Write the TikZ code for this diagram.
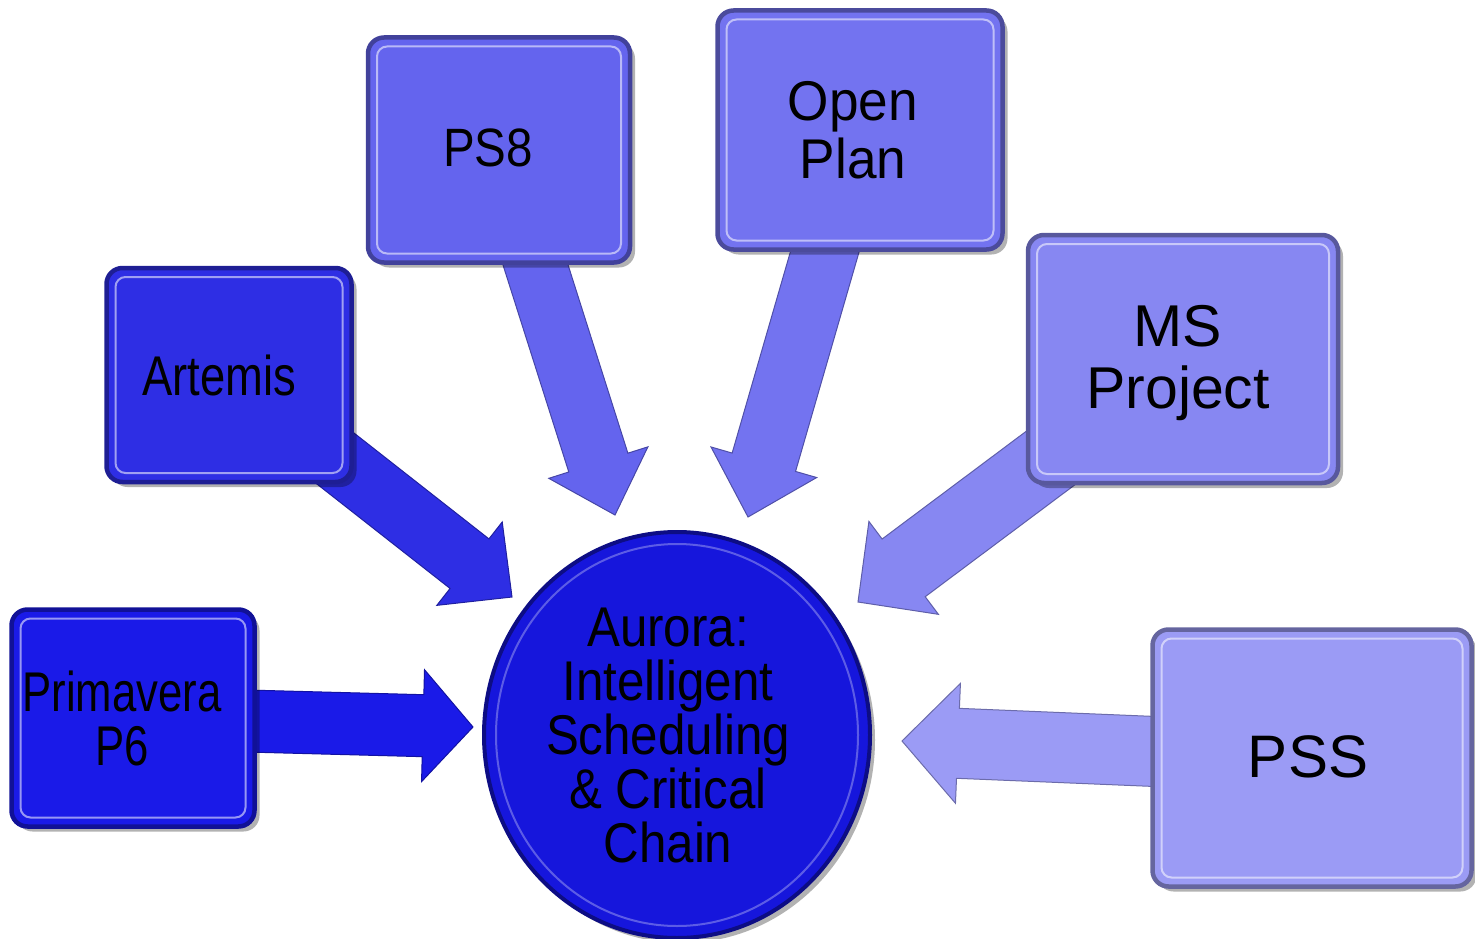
\documentclass[tikz,border=0pt]{standalone}
\usepackage{fontspec}
\setmainfont{Liberation Sans}
\usetikzlibrary{calc,shapes.geometric,shadows}
\definecolor{cP}{RGB}{26,26,232}
\definecolor{cA}{RGB}{46,46,228}
\definecolor{cS}{RGB}{100,100,238}
\definecolor{cO}{RGB}{115,115,240}
\definecolor{cM}{RGB}{135,135,242}
\definecolor{cT}{RGB}{155,155,245}
\definecolor{cC}{RGB}{22,22,220}
\pgfdeclarelayer{bg}
\pgfsetlayers{bg,main}
\newcommand{\blockarrow}[6]{%
  \coordinate (hb) at ($(#2)!#5!(#1)$);
  \path[fill=#6, draw=#6!70!black, line width=1pt, line join=miter]
    ($(#1)!#3!90:(#2)$) -- ($(hb)!#3!90:(#2)$) -- ($(hb)!#4!90:(#2)$) -- (#2)
    -- ($(hb)!#4!-90:(#2)$) -- ($(hb)!#3!-90:(#2)$) -- ($(#1)!#3!-90:(#2)$) -- cycle;
}
\tikzset{
  box/.style={rectangle, rounded corners=16pt, fill=#1, draw=#1!65!black, line width=4.5pt, inner sep=0pt,
    drop shadow={shadow xshift=5pt, shadow yshift=-5pt, opacity=0.3, fill=black},
    path picture={\draw[white, opacity=0.55, line width=2pt, rounded corners=10pt]
      ($(path picture bounding box.north west)+(9pt,-9pt)$) rectangle
      ($(path picture bounding box.south east)+(-9pt,9pt)$);}},
  lbl/.style={align=center, font=\fontsize{56}{54}\selectfont, text=black, inner sep=0pt},
}
\begin{document}
\begin{tikzpicture}[x=1pt,y=-1pt]
\useasboundingbox (0,0) rectangle (1475,939);
% boxes
\node[box=cP, minimum width=243pt, minimum height=217pt] (prim) at (133,718) {};
\node[box=cA, minimum width=245pt, minimum height=214pt] (art) at (229,375) {};
\node[box=cS, minimum width=262pt, minimum height=225pt] (ps8) at (499,150) {};
\node[box=cO, minimum width=285pt, minimum height=239pt] (open) at (860,130) {};
\node[box=cM, minimum width=310pt, minimum height=248pt] (ms) at (1183,359) {};
\node[box=cT, minimum width=319pt, minimum height=257pt] (pss) at (1312,758) {};
\node[ellipse, minimum width=386pt, minimum height=406pt, fill=cC, draw=cC!60!black, line width=4pt, inner sep=0pt,
  drop shadow={shadow xshift=5pt, shadow yshift=-5pt, opacity=0.3, fill=black},
  path picture={\draw[white, opacity=0.3, line width=2pt]
      (path picture bounding box.center) ellipse [x radius=181pt, y radius=191pt];}] (aur) at (677,735) {};
% labels
\node[lbl, xscale=0.78] (primT) at (122,718) {Primavera\\P6};
\node[lbl, xscale=0.81] (artT) at (219,375) {Artemis};
\node[lbl, xscale=0.88, font=\fontsize{54}{54}\selectfont] (ps8T) at (488,148) {PS8};
\node[lbl, xscale=0.95, font=\fontsize{56}{58}\selectfont] (openT) at (853,130) {Open\\Plan};
\node[lbl, font=\fontsize{59}{62}\selectfont] (msT) at (1178,363) {MS\\Project};
\node[lbl, font=\fontsize{60}{60}\selectfont] (pssT) at (1308,757) {PSS};
\node[lbl, xscale=0.88] (aurT) at (668,736) {Aurora:\\Intelligent\\Scheduling\\\& Critical\\Chain};
% tips
\coordinate (tP) at (473,727);
\coordinate (tA) at (512,597);
\coordinate (tS) at (615,515);
\coordinate (tO) at (748,517);
\coordinate (tM) at (858,602);
\coordinate (tT) at (902,741);
\begin{pgfonlayer}{bg}
\blockarrow{prim}{tP}{31pt}{56pt}{50pt}{cP}
\blockarrow{art}{tA}{31.5pt}{53pt}{54pt}{cA}
\blockarrow{ps8}{tS}{31pt}{52pt}{55pt}{cS}
\blockarrow{open}{tO}{33pt}{55pt}{57pt}{cO}
\blockarrow{ms}{tM}{36pt}{58pt}{57pt}{cM}
\blockarrow{pss}{tT}{35pt}{60pt}{56pt}{cT}
\end{pgfonlayer}
\end{tikzpicture}
\end{document}
